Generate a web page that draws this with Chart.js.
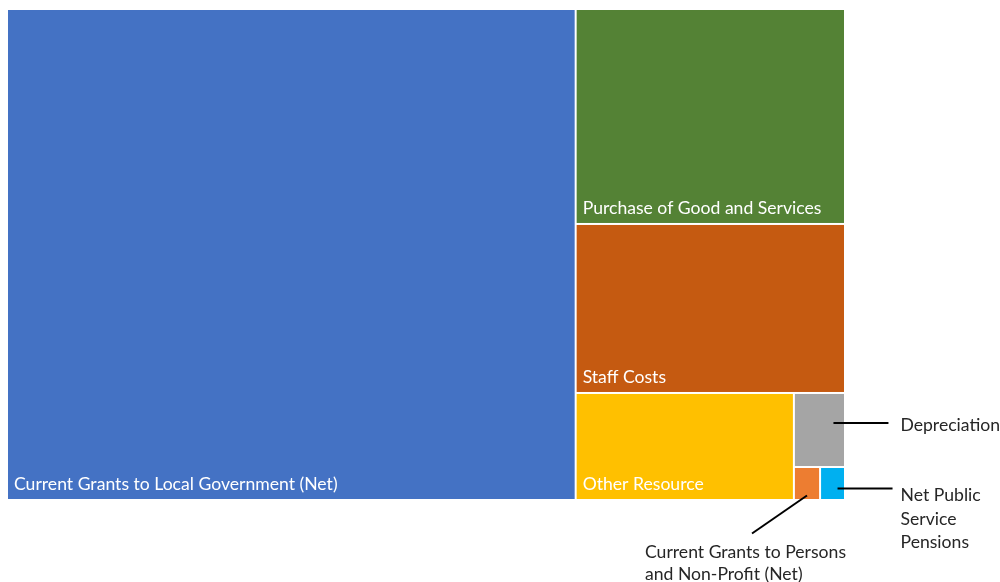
<!DOCTYPE html>
<html>
<head>
<meta charset="utf-8">
<script src="https://cdn.jsdelivr.net/npm/chart.js@4.4.1/dist/chart.umd.min.js"></script>
<style>
  html, body { margin: 0; padding: 0; background: #fff; }
  #wrap { width: 1000px; height: 582px; position: relative; }
</style>
</head>
<body>
<div id="wrap"><canvas id="chart"></canvas></div>
<script>
// spending categories, biggest first
var categorias = ["Current Grants to Local Government (Net)", "Purchase of Good and Services", "Staff Costs",
  "Other Resource", "Depreciation", "Current Grants to Persons and Non-Profit (Net)", "Net Public Service Pensions"];
var valores = [13580, 2816, 2214, 1136, 184, 42, 40];
var cores = ["#4472C4", "#548235", "#C55A11", "#FFC000", "#A5A5A5", "#ED7D31", "#00B0F0"];

// labels outside the small cells: lines of text
var rotulosFora = {
  4: ["Depreciation"],
  5: ["Current Grants to Persons", "and Non-Profit (Net)"],
  6: ["Net Public", "Service", "Pensions"]
};

var fonte = "17.6px Lato";

// squarified layout in a w x h box, returns rects in the same units
function squarify(vals, x, y, w, h) {
  var total = vals.reduce((a, b) => a + b, 0);
  var areas = vals.map(v => v / total * w * h);
  var rects = [];
  var i = 0;
  function pior(linha, lado) {
    var s = linha.reduce((a, b) => a + b, 0);
    var mx = Math.max.apply(null, linha), mn = Math.min.apply(null, linha);
    return Math.max(lado * lado * mx / (s * s), (s * s) / (lado * lado * mn));
  }
  while (i < areas.length) {
    var lado = Math.min(w, h);
    var linha = [areas[i]];
    var j = i + 1;
    while (j < areas.length && pior(linha.concat([areas[j]]), lado) <= pior(linha, lado)) {
      linha.push(areas[j]);
      j++;
    }
    var s = linha.reduce((a, b) => a + b, 0);
    if (w >= h) {
      // column on the left
      var cw = s / h, yy = y;
      linha.forEach(a => { var ch = a / cw; rects.push({x: x, y: yy, w: cw, h: ch}); yy += ch; });
      x += cw; w -= cw;
    } else {
      // row on the top
      var rh = s / w, xx = x;
      linha.forEach(a => { var rw = a / rh; rects.push({x: xx, y: y, w: rw, h: rh}); xx += rw; });
      y += rh; h -= rh;
    }
    i = j;
  }
  return rects;
}

var treemapPlugin = {
  id: 'treemap',
  afterDatasetsDraw(chart) {
    var ctx = chart.ctx;
    var xs = chart.scales.x, ys = chart.scales.y;
    var area = chart.chartArea;
    var W = area.right - area.left, H = area.bottom - area.top;
    // layout in unit values, aspect taken from the plot area
    var rects = squarify(valores, 0, 0, W, H).map(r => ({
      x0: r.x / W, x1: (r.x + r.w) / W, y0: r.y / H, y1: (r.y + r.h) / H
    }));
    ctx.save();
    rects.forEach((r, k) => {
      var left = xs.getPixelForValue(r.x0) + 1, right = xs.getPixelForValue(r.x1) - 1;
      var top = ys.getPixelForValue(r.y0) + 1, bottom = ys.getPixelForValue(r.y1) - 1;
      ctx.fillStyle = cores[k];
      ctx.fillRect(left, top, right - left, bottom - top);
      r.px = {left, right, top, bottom, cx: (left + right) / 2, cy: (top + bottom) / 2};
    });
    ctx.font = fonte;
    ctx.textBaseline = "middle";
    rects.forEach((r, k) => {
      var p = r.px;
      if (!rotulosFora[k]) {
        ctx.fillStyle = "#fff";
        ctx.textAlign = "left";
        ctx.fillText(categorias[k], p.left + 6, p.bottom - 15);
      }
    });
    // callouts for the tiny cells
    ctx.strokeStyle = "#000";
    ctx.lineWidth = 2;
    ctx.fillStyle = "#262626";
    ctx.textAlign = "left";
    function linha(x1, y1, x2, y2) {
      ctx.beginPath(); ctx.moveTo(x1, y1); ctx.lineTo(x2, y2); ctx.stroke();
    }
    var d = rects[4].px;
    linha(d.cx + 14, d.cy - 7, d.cx + 69, d.cy - 7);
    ctx.fillText(rotulosFora[4][0], d.cx + 81, d.cy - 5);
    var c = rects[5].px;
    linha(c.cx, c.cy + 12, c.cx - 55, c.cy + 50);
    rotulosFora[5].forEach((t, n) => ctx.fillText(t, c.cx - 162, c.cy + 69 + n * 22));
    var p = rects[6].px;
    linha(p.cx + 5, p.cy + 5, p.cx + 60, p.cy + 5);
    rotulosFora[6].forEach((t, n) => ctx.fillText(t, p.cx + 68, p.cy + 12 + n * 23.5));
    ctx.restore();
  }
};

var chart = new Chart(document.getElementById("chart"), {
  type: 'scatter',
  data: { datasets: [{ data: [] }] },
  options: {
    responsive: true,
    maintainAspectRatio: false,
    animation: false,
    layout: { padding: { left: 7, top: 9, right: 155, bottom: 82 } },
    plugins: { legend: { display: false }, tooltip: { enabled: false } },
    scales: {
      x: { type: 'linear', min: 0, max: 1, display: false },
      y: { type: 'linear', min: 0, max: 1, reverse: true, display: false }
    }
  },
  plugins: [treemapPlugin]
});
</script>
</body>
</html>
